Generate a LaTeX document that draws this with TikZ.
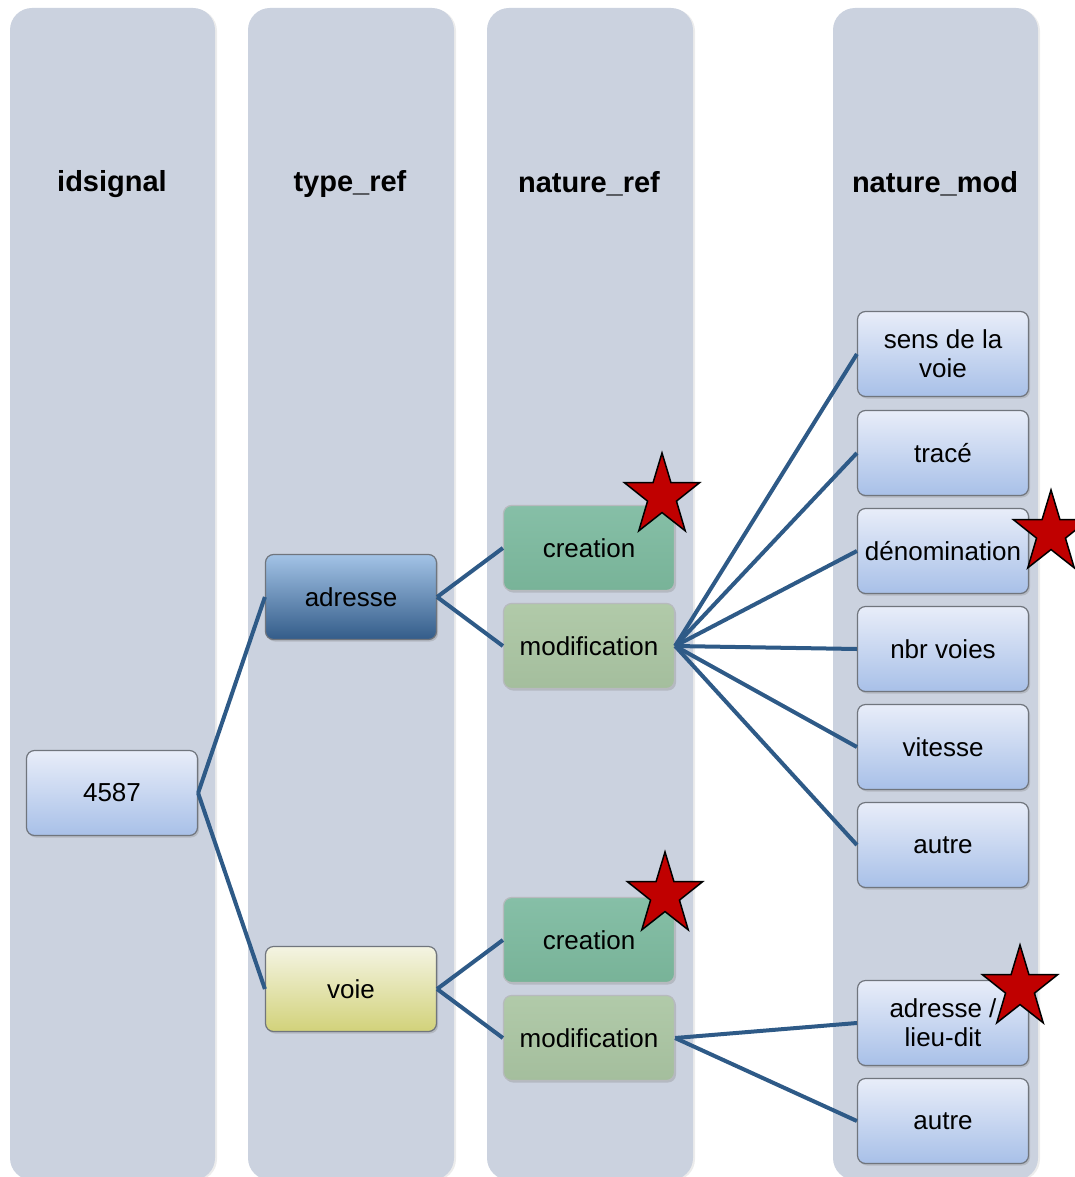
\documentclass[tikz,border=0pt]{standalone}
\usepackage{fontspec}
\setmainfont{Liberation Sans}
\usepackage{xcolor}
\usetikzlibrary{shapes.geometric,shadows}

\definecolor{lanegray}{HTML}{CBD2DF}
\definecolor{linkblue}{HTML}{2E5A87}
\definecolor{boxedge}{HTML}{70757D}
\definecolor{valtop}{HTML}{E8EDF9}
\definecolor{valbot}{HTML}{A8C0E8}
\definecolor{adrtop}{HTML}{A3C3E6}
\definecolor{adrmid}{HTML}{78A1D1}
\definecolor{adrbot}{HTML}{335C89}
\definecolor{voietop}{HTML}{F4F4E3}
\definecolor{voiemid}{HTML}{EEEECF}
\definecolor{voiebot}{HTML}{D2D27A}
\definecolor{creatop}{HTML}{86BFA7}
\definecolor{creabot}{HTML}{78B398}
\definecolor{modiftop}{HTML}{B1CAA9}
\definecolor{modifbot}{HTML}{A4BE9D}
\definecolor{starred}{HTML}{C00000}

\tikzset{
  lane/.style={fill=lanegray,rounded corners=22pt,
    drop shadow={shadow xshift=2pt,shadow yshift=-1pt,opacity=0.15}},
  head/.style={font=\fontsize{29}{34}\selectfont\bfseries},
  box/.style={draw=boxedge,line width=1.2pt,rounded corners=8pt,
    minimum width=171pt,minimum height=85pt,inner sep=2pt,align=center,
    font=\fontsize{26}{29}\selectfont,
    drop shadow={shadow xshift=1.5pt,shadow yshift=-2pt,opacity=0.3}},
  valbox/.style={box,top color=valtop,bottom color=valbot},
  adrbox/.style={box,top color=adrtop,middle color=adrmid,bottom color=adrbot},
  voiebox/.style={box,top color=voietop,middle color=voiemid,bottom color=voiebot},
  creabox/.style={box,draw=boxedge!50,top color=creatop,bottom color=creabot},
  modifbox/.style={box,draw=boxedge!50,top color=modiftop,bottom color=modifbot},
  link/.style={draw=linkblue,line width=4pt},
  etoile/.style={star,star points=5,star point ratio=2.6,minimum size=79pt,
    inner sep=0pt,fill=starred,draw=black,line width=1.5pt,
    yscale=1.09,transform shape}
}

\begin{document}
\begin{tikzpicture}[x=1pt,y=-1pt]
		\useasboundingbox (0,0) rectangle (1074,1177);
		% colonnes
		\fill [lane] (10,8) rectangle (215,1180);
		\fill [lane] (248,8) rectangle (454,1180);
		\fill [lane] (487,8) rectangle (693,1180);
		\fill [lane] (833,8) rectangle (1038,1180);
		\node [head] (h1) at (112,184) {idsignal};
		\node [head] (h2) at (350,184) {type\_ref};
		\node [head] (h3) at (589,184) {nature\_ref};
		\node [head] (h4) at (935,184) {nature\_mod};

		\node [valbox] (1) at (112,793) {4587};
		\node [adrbox] (2) at (351,597) {adresse};
		\node [voiebox] (3) at (351,989) {voie};
		\node [creabox] (4) at (589,548) {creation};
		\node [modifbox] (5) at (589,646) {modification};
		\node [creabox] (6) at (589,940) {creation};
		\node [modifbox] (7) at (589,1038) {modification};
		\node [valbox] (8) at (943,354) {sens de la\\voie};
		\node [valbox] (9) at (943,453) {trac\'e};
		\node [valbox] (10) at (943,551) {d\'enomination};
		\node [valbox] (11) at (943,649) {nbr voies};
		\node [valbox] (12) at (943,747) {vitesse};
		\node [valbox] (13) at (943,845) {autre};
		\node [valbox] (14) at (943,1023) {adresse /\\lieu-dit};
		\node [valbox] (15) at (943,1121) {autre};

		\draw [link] (1.east) -- (2.west);
		\draw [link] (1.east) -- (3.west);
		\draw [link] (2.east) -- (4.west);
		\draw [link] (2.east) -- (5.west);
		\draw [link] (3.east) -- (6.west);
		\draw [link] (3.east) -- (7.west);
		\foreach \n in {8,...,13}
			\draw [link] (5.east) -- (\n.west);
		\draw [link] (7.east) -- (14.west);
		\draw [link] (7.east) -- (15.west);

		% nouveautes
		\node [etoile] (s1) at (662,496) {};
		\node [etoile] (s2) at (665,895) {};
		\node [etoile] (s3) at (1051,533) {};
		\node [etoile] (s4) at (1020,988) {};
\end{tikzpicture}
\end{document}
